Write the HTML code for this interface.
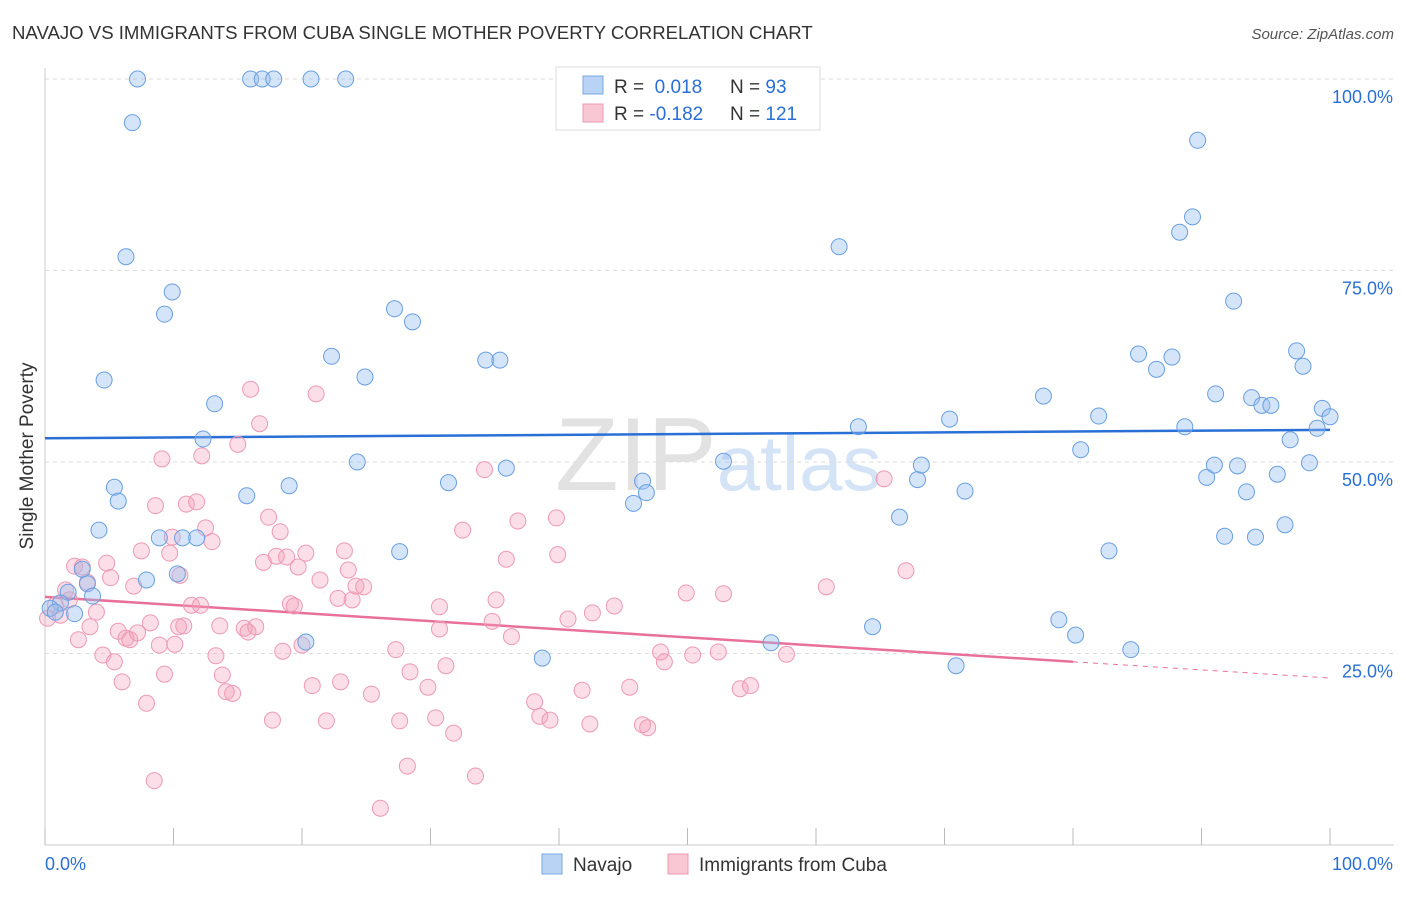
<!DOCTYPE html>
<html><head><meta charset="utf-8"><style>
body{margin:0;background:#fff;font-family:"Liberation Sans",sans-serif;}
svg text{font-family:"Liberation Sans",sans-serif;}
</style></head><body>
<svg id="chart" width="1406" height="892">
<text x="12" y="39" font-size="18.6" fill="#333">NAVAJO VS IMMIGRANTS FROM CUBA SINGLE MOTHER POVERTY CORRELATION CHART</text>
<text x="1394" y="39" font-size="15" fill="#555" font-style="italic" text-anchor="end">Source: ZipAtlas.com</text>
<text transform="translate(33,456) rotate(-90)" font-size="19" fill="#333" text-anchor="middle">Single Mother Poverty</text>
<text x="555" y="490" font-size="104" fill="#e2e2e2" font-family="Liberation Serif">ZIP<tspan fill="#d4e3f6" font-family="Liberation Sans" font-size="78">atlas</tspan></text>
<g id="grid"></g><g id="axes"></g><g id="lines"></g><g id="pts"></g>
<g>
<rect x="556" y="67" width="264" height="63" fill="#fff" stroke="#ddd"/>
<rect x="583" y="76" width="20" height="18" fill="#b8d3f4" stroke="#7aa8e4"/>
<rect x="583" y="104" width="20" height="18" fill="#f9c6d4" stroke="#ec9ab4"/>
<text x="614" y="93" font-size="19" fill="#333">R = <tspan fill="#2a6fd6">&#160;0.018</tspan><tspan x="730">N = </tspan><tspan fill="#2a6fd6"> 93</tspan></text>
<text x="614" y="120" font-size="19" fill="#333">R = <tspan fill="#2a6fd6">-0.182</tspan><tspan x="730">N = </tspan><tspan fill="#2a6fd6">121</tspan></text>
</g>
<g>
<rect x="542" y="854" width="20" height="20" fill="#b8d3f4" stroke="#7aa8e4"/>
<text x="573" y="871" font-size="19" fill="#333">Navajo</text>
<rect x="668" y="854" width="20" height="20" fill="#f9c6d4" stroke="#ec9ab4"/>
<text x="699" y="871" font-size="19" fill="#333">Immigrants from Cuba</text>
</g>
</svg>
<script>
const blueX=[7.2,16.0,16.9,17.8,20.7,23.4,40.5,6.8,6.3,9.9,9.3,27.2,28.6,4.6,22.3,24.9,34.3,35.4,13.2,12.3,15.7,19.0,24.3,35.9,31.4,46.5,46.8,45.8,52.8,27.6,5.4,5.7,4.2,8.9,10.7,11.8,10.3,7.9,2.9,3.3,3.7,1.8,1.2,0.4,0.8,2.3,20.3,38.7,56.5,64.4,70.9,61.8,63.3,70.4,66.5,67.9,68.2,71.6,77.7,80.6,82.0,82.8,78.9,80.2,84.5,85.1,86.5,87.7,88.7,89.7,89.3,88.3,92.5,91.1,90.4,91.0,92.8,93.5,91.8,94.2,93.9,94.7,95.4,95.9,96.5,96.9,97.4,97.9,98.4,99.0,99.4,100];
const blueY=[100,100,100,100,100,100,100,94.3,76.8,72.2,69.3,70.0,68.3,60.7,63.8,61.1,63.3,63.3,57.6,53.0,45.6,46.9,50.0,49.2,47.3,47.5,46.0,44.6,50.1,38.3,46.7,44.9,41.1,40.1,40.1,40.1,35.4,34.6,36.0,34.1,32.5,33.0,31.6,30.9,30.4,30.2,26.5,24.4,26.4,28.5,23.4,78.1,54.6,55.6,42.8,47.7,49.6,46.2,58.6,51.6,56.0,38.4,29.4,27.4,25.5,64.1,62.1,63.7,54.6,92.0,82.0,80.0,71.0,58.9,48.0,49.6,49.5,46.1,40.3,40.2,58.4,57.4,57.4,48.4,41.8,52.9,64.5,62.5,49.9,54.4,57.0,55.9];
const pinkX=[0.2,0.8,1.2,1.6,1.9,2.3,2.6,2.9,3.3,3.5,4.0,4.5,4.8,5.1,5.4,5.7,6.0,6.3,6.6,6.9,7.2,7.5,7.9,8.2,8.5,8.6,8.9,9.1,9.3,9.7,9.9,10.1,10.4,10.5,10.8,11.0,11.4,11.8,12.1,12.2,12.5,13.0,13.3,13.6,13.8,14.1,14.6,15.0,15.5,15.8,16.0,16.4,16.7,17.0,17.4,17.7,18.0,18.3,18.5,18.8,19.1,19.4,19.7,20.0,20.3,20.8,21.1,21.4,21.9,22.8,23.0,23.3,23.6,23.9,24.2,24.8,25.4,26.1,27.3,27.6,28.2,28.4,29.8,30.4,30.7,30.7,31.2,31.8,32.5,33.5,34.2,34.8,35.1,35.9,36.3,36.8,38.1,38.5,39.3,39.8,39.9,40.7,41.8,42.4,42.6,44.3,45.5,46.5,46.9,47.9,48.2,49.9,50.4,52.4,52.8,54.1,54.9,57.7,60.8,65.3,67.0];
const pinkY=[29.6,31.3,30.0,33.3,32.0,36.4,26.8,36.3,34.3,28.5,30.4,24.8,36.8,34.9,23.9,27.9,21.3,27.0,26.8,33.8,27.7,38.4,18.5,29.0,8.4,44.3,26.1,50.4,22.3,38.1,40.2,26.2,28.5,35.2,28.6,44.5,31.3,44.8,31.3,50.8,41.4,39.6,24.7,28.6,22.2,20.0,19.8,52.3,28.3,27.8,59.5,28.5,55.0,36.9,42.8,16.3,37.7,40.9,25.3,37.6,31.5,31.2,36.3,26.1,38.1,20.8,58.9,34.6,16.2,32.2,21.3,38.4,35.9,32.0,33.8,33.7,19.7,4.8,25.5,16.2,10.3,22.6,20.6,16.6,31.1,28.2,23.4,14.6,41.1,9.0,49.0,29.2,32.0,37.3,27.2,42.3,18.7,16.8,16.3,42.7,37.9,29.5,20.2,15.8,30.3,31.2,20.6,15.7,15.3,25.2,23.9,32.9,24.8,25.2,32.8,20.4,20.8,24.9,33.7,47.8,35.8];
const blueTrend=[53.1,54.2];
const pinkTrend=[32.4,21.8];
const pinkSolidEnd=80;
const yTicks=[25,50,75,100];
const yTickLabels=["25.0%","50.0%","75.0%","100.0%"];
const xTicks=[0,10,20,30,40,50,60,70,80,90,100];

const NS="http://www.w3.org/2000/svg";
const X0=45,X1=1330,Y0=845,Y100=79;
const sx=v=>X0+(X1-X0)*v/100;
const sy=v=>Y0-(Y0-Y100)*v/100;
function mk(tag,attrs,parent){const e=document.createElementNS(NS,tag);for(const k in attrs)e.setAttribute(k,attrs[k]);parent.appendChild(e);return e;}
const grid=document.getElementById('grid'),axes=document.getElementById('axes'),lines=document.getElementById('lines'),pts=document.getElementById('pts');
yTicks.forEach((t,i)=>{
  const l=mk('line',{x1:X0,x2:1394,y1:sy(t),y2:sy(t),stroke:'#ddd','stroke-dasharray':'4,4'},grid);
  
  
  const tx=mk('text',{x:1393,y:sy(t)+24,'font-size':18,fill:'#2a6fd6','text-anchor':'end'},axes);
  tx.textContent=yTickLabels[i];
  
  
});
const ya=mk('line',{x1:X0,x2:X0,y1:68,y2:Y0,stroke:'#ccc'},axes);


const xa=mk('line',{x1:X0,x2:1394,y1:Y0,y2:Y0,stroke:'#ccc'},axes);


xTicks.forEach(t=>{
  const l=mk('line',{x1:sx(t),x2:sx(t),y1:Y0-17,y2:Y0,stroke:'#bbb'},axes);
  
  
});
const xl0=mk('text',{x:45,y:870,'font-size':18,fill:'#2a6fd6'},axes);xl0.textContent='0.0%';


const xl1=mk('text',{x:1393,y:870,'font-size':18,fill:'#2a6fd6','text-anchor':'end'},axes);xl1.textContent='100.0%';



pinkX.forEach((x,i)=>{
  const c=mk('circle',{cx:sx(x),cy:sy(pinkY[i]),r:8,fill:'rgba(244,160,186,0.35)',stroke:'#ec9ab4','stroke-width':1},pts);
  
  
});
blueX.forEach((x,i)=>{
  const c=mk('circle',{cx:sx(x),cy:sy(blueY[i]),r:8,fill:'rgba(150,190,240,0.4)',stroke:'#6a9fe0','stroke-width':1},pts);
  
  
});
const bl=mk('line',{x1:sx(0),y1:sy(blueTrend[0]),x2:sx(100),y2:sy(blueTrend[1]),stroke:'#2a6fd6','stroke-width':2.5},lines);


const pm=pinkTrend[0]+(pinkTrend[1]-pinkTrend[0])*pinkSolidEnd/100;
const pl=mk('line',{x1:sx(0),y1:sy(pinkTrend[0]),x2:sx(pinkSolidEnd),y2:sy(pm),stroke:'#e8709a','stroke-width':2.5},lines);


const pd=mk('line',{x1:sx(pinkSolidEnd),y1:sy(pm),x2:sx(100),y2:sy(pinkTrend[1]),stroke:'#e8709a','stroke-width':1,'stroke-dasharray':'5,5'},lines);


</script>
</body></html>
